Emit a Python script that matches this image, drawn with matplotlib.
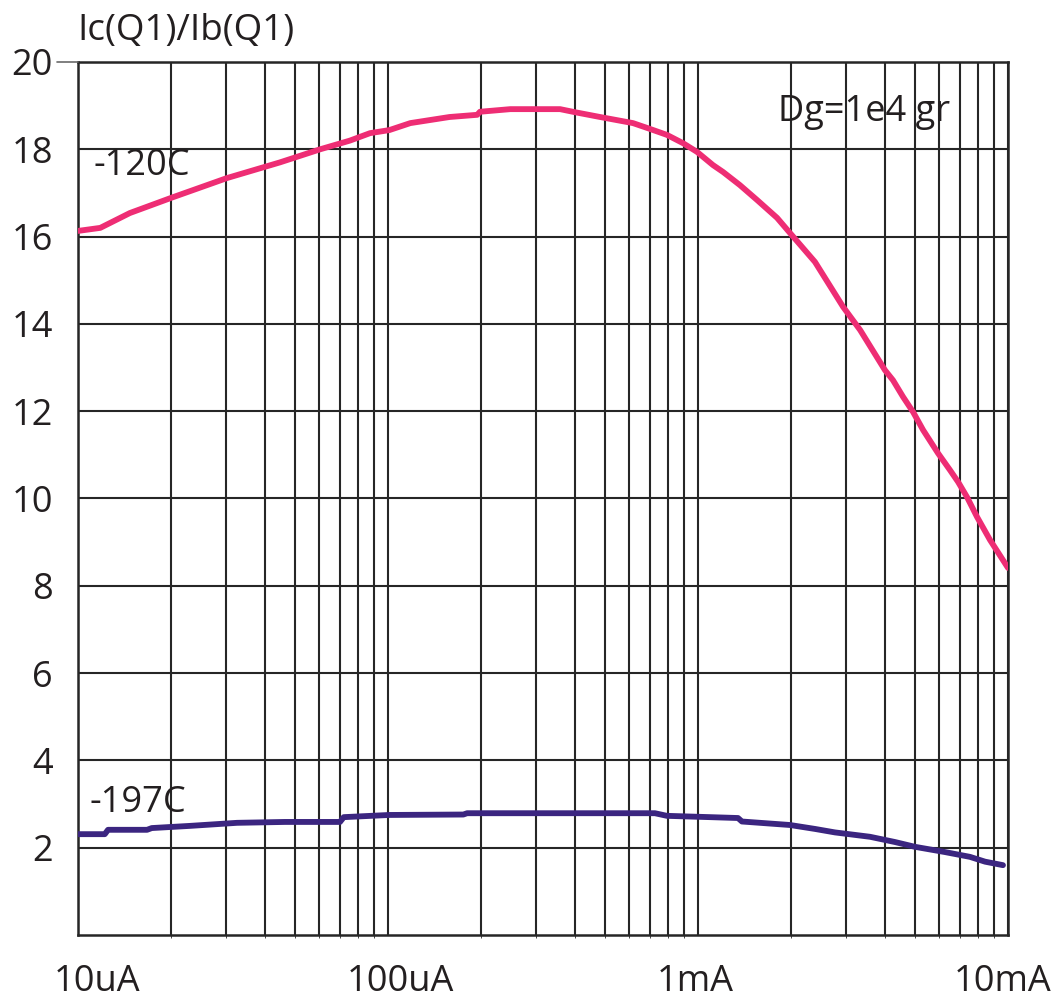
import numpy as np
import matplotlib.pyplot as plt
from matplotlib.ticker import LogLocator, NullFormatter, FixedLocator

plt.rcParams['font.family'] = ['Open Sans', 'DejaVu Sans']

# collector current in uA and current gain for the two temperatures
i_120 = [10, 11.8, 14.7, 20.2, 30.2, 44.8, 60.4, 75.4, 87.5, 101, 118, 158, 194, 198,
         248, 359, 401, 483, 617, 685, 794, 895, 993, 1117, 1205, 1365, 1550, 1799,
         1982, 2384, 2938, 3334, 4010, 4256, 4585, 4943, 5321, 5943, 6501, 6902,
         7379, 7943, 8750, 10000]
gain_120 = [16.13, 16.2, 16.54, 16.9, 17.34, 17.7, 18.0, 18.2, 18.37, 18.44, 18.6, 18.74,
            18.79, 18.86, 18.92, 18.92, 18.85, 18.74, 18.6, 18.49, 18.33, 18.14, 17.94,
            17.64, 17.48, 17.18, 16.84, 16.43, 16.08, 15.42, 14.39, 13.86, 12.94,
            12.71, 12.33, 11.98, 11.57, 11.04, 10.65, 10.38, 10.03, 9.58, 9.05, 8.41]

i_197 = [10, 12.2, 12.5, 16.7, 17.3, 23.0, 32.6, 46.5, 70, 72, 101, 175, 180, 726, 794,
         1093, 1346, 1386, 1980, 2384, 2767, 3589, 4318, 5012, 6263, 7540, 8433, 9634]
gain_197 = [2.31, 2.31, 2.41, 2.41, 2.45, 2.5, 2.57, 2.59, 2.59, 2.7, 2.75, 2.76, 2.79,
            2.79, 2.73, 2.7, 2.68, 2.6, 2.52, 2.43, 2.35, 2.25, 2.13, 2.02, 1.9, 1.79,
            1.68, 1.6]

x_ticks = [10, 100, 1000, 10000]
x_labels = ['10uA', '100uA', '1mA', '10mA']
y_ticks = [2, 4, 6, 8, 10, 12, 14, 16, 18, 20]

ink = '#231f20'
grid_c = '#262626'
px = 72 / 100  # points per pixel

fig = plt.figure(figsize=(10.54, 10.01), dpi=100)
ax = fig.add_axes([78 / 1054, 1 - 935 / 1001, 930 / 1054, 873 / 1001])

ax.plot(i_120, gain_120, color='#ee2d74', lw=4.2, solid_capstyle='round',
        solid_joinstyle='round', zorder=3)
ax.plot(i_197, gain_197, color='#3b2580', lw=4.2, solid_capstyle='round',
        solid_joinstyle='round', zorder=3)

ax.set_xscale('log')
ax.set_xlim(10, 10000)
ax.set_ylim(0, 20)

ax.xaxis.set_major_locator(FixedLocator(x_ticks))
ax.xaxis.set_major_formatter(NullFormatter())
ax.xaxis.set_minor_locator(LogLocator(base=10, subs=np.arange(2, 10)))
ax.xaxis.set_minor_formatter(NullFormatter())
ax.set_yticks(y_ticks)

ax.grid(True, which='both', axis='x', color=grid_c, lw=1.5)
ax.grid(True, which='major', axis='y', color=grid_c, lw=1.5)

ax.tick_params(axis='x', which='major', length=0)
ax.tick_params(axis='x', which='minor', length=2, color=grid_c)
ax.tick_params(axis='y', length=0, pad=18, labelsize=26, labelcolor=ink)

for s in ax.spines.values():
    s.set_color(grid_c)
    s.set_linewidth(1.8)

# current labels under the axis, each nudged a little sideways
x_shift = [19, 12, -3, -5]
for x, lab, dx in zip(x_ticks, x_labels, x_shift):
    ax.annotate(lab, xy=(x, 0), xycoords=('data', 'axes fraction'),
                xytext=(dx * px, -47 * px), textcoords='offset points',
                ha='center', va='center', fontsize=26, color=ink,
                annotation_clip=False)

# short tick stub at the top of the gain scale
ax.annotate('', xy=(0, 20), xycoords=('axes fraction', 'data'),
            xytext=(-21 * px, 0), textcoords='offset points',
            arrowprops=dict(arrowstyle='-', color='#6a6a6a', lw=1.2,
                            shrinkA=0, shrinkB=0),
            annotation_clip=False)

ax.text(11.2, 17.41, '-120C', fontsize=26, color=ink, va='baseline')
ax.text(10.9, 2.82, '-197C', fontsize=26, color=ink, va='baseline')
ax.text(1812, 18.65, 'Dg=1e4 gr', fontsize=26, color=ink, va='baseline')
fig.text(77 / 1054, 1 - 40 / 1001, 'Ic(Q1)/Ib(Q1)', fontsize=26.5, color=ink,
         va='baseline')

fig.savefig('out.png', dpi=100, facecolor='white')
